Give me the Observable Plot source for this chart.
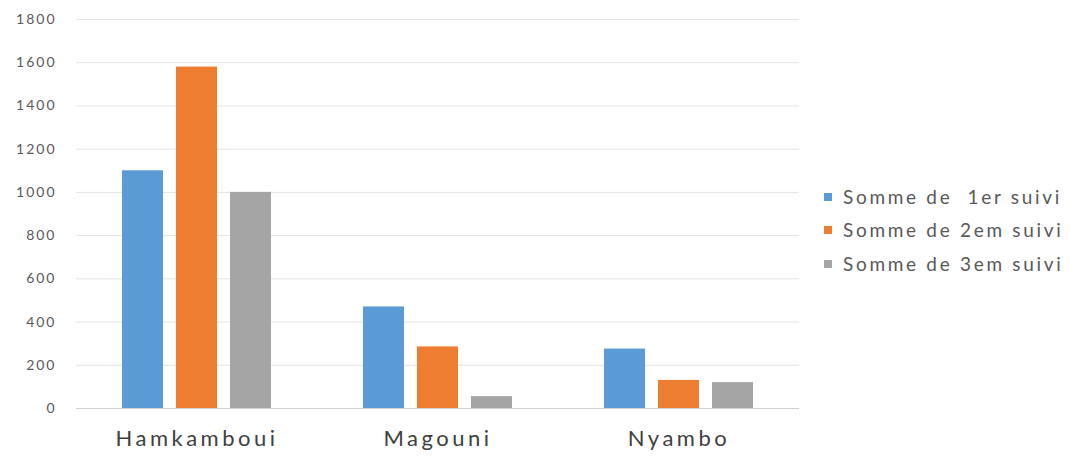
<!DOCTYPE html>
<html>
<head>
<meta charset="utf-8">
<script src="https://cdn.jsdelivr.net/npm/d3@7"></script>
<script src="https://cdn.jsdelivr.net/npm/@observablehq/plot@0.6"></script>
<style>
  html, body { margin: 0; padding: 0; background: #fff; }
  #wrap { position: relative; width: 1071px; height: 457px; }
  #legend { position: absolute; left: 822px; top: 180px; font-family: Lato, "Open Sans", sans-serif; font-size: 19px; color: #595959; letter-spacing: 2.7px; }
  .row { height: 33.5px; line-height: 26px; display: flex; align-items: center; white-space: pre; }
  .sw { width: 8px; height: 8px; margin-right: 11px; margin-left: 2px; }
  svg .ytick text { letter-spacing: 2px; }
  svg .fxtick text { letter-spacing: 3.5px; }
</style>
</head>
<body>
<div id="wrap"><div id="legend"></div></div>
<script>
const categories = ["Hamkamboui", "Magouni", "Nyambo"];
const series = ["Somme de  1er suivi", "Somme de 2em suivi", "Somme de 3em suivi"];
const suivi1 = [1100, 470, 275];
const suivi2 = [1580, 285, 130];
const suivi3 = [1000, 55, 120];
const yTicks = [0, 200, 400, 600, 800, 1000, 1200, 1400, 1600, 1800];
const colors = ["#5B9BD5", "#ED7D31", "#A5A5A5"];

const values = [suivi1, suivi2, suivi3];
const data = [];
categories.forEach((c, i) => {
  series.forEach((s, j) => data.push({cat: c, series: s, value: values[j][i]}));
});

const chart = Plot.plot({
  width: 1071,
  height: 457,
  marginLeft: 75,
  marginRight: 271,
  marginTop: 19,
  marginBottom: 49,
  style: {fontFamily: "Lato, 'Open Sans', sans-serif", color: "#595959", background: "#fff"},
  fx: {domain: categories, padding: 0, label: null},
  x: {domain: series, paddingInner: 0.25, paddingOuter: 0.84, axis: null},
  y: {domain: [0, 1800], label: null},
  color: {domain: series, range: colors},
  marks: [
    Plot.gridY(yTicks, {stroke: "#e3e3e3", strokeOpacity: 1, strokeWidth: 1}),
    Plot.ruleY([0], {stroke: "#d0d0d0", strokeWidth: 1}),
    Plot.barY(data, {fx: "cat", x: "series", y: "value", fill: "series"}),
    Plot.axisY(yTicks, {tickSize: 0, tickPadding: 20, fontSize: 14, label: null, fill: "#595959", tickFormat: d => String(d), className: "ytick"}),
    Plot.axisFx({anchor: "bottom", tickSize: 0, tickPadding: 22, fontSize: 22, label: null, fill: "#404040", className: "fxtick"})
  ]
});
document.getElementById("wrap").prepend(chart);

const legend = document.getElementById("legend");
series.forEach((s, j) => {
  const row = document.createElement("div");
  row.className = "row";
  const sw = document.createElement("span");
  sw.className = "sw";
  sw.style.background = colors[j];
  const t = document.createElement("span");
  t.textContent = s;
  row.appendChild(sw);
  row.appendChild(t);
  legend.appendChild(row);
});
</script>
</body>
</html>
